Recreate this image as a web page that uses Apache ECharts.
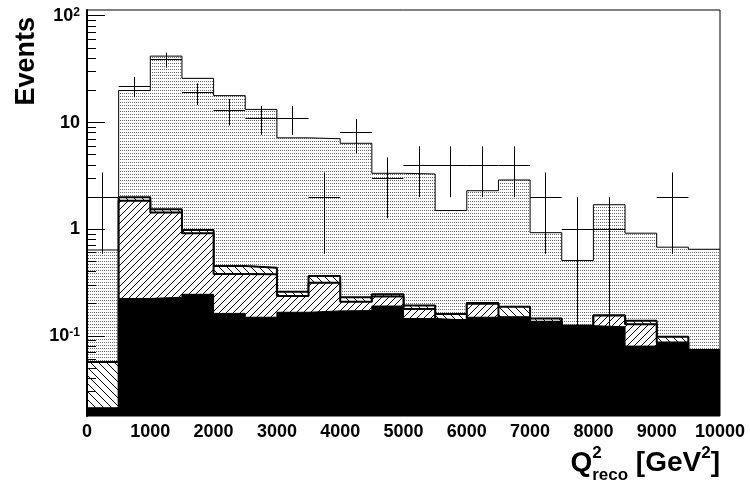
<!DOCTYPE html>
<html>
<head>
<meta charset="utf-8">
<script src="https://cdn.jsdelivr.net/npm/echarts@6/dist/echarts.min.js"></script>
<style>
  html, body { margin: 0; padding: 0; background: #fff; }
  #chart { width: 750px; height: 488px; }
</style>
</head>
<body>
<div id="chart"></div>
<script>
// Q2 bins: 20 bins of 500 GeV^2, given by their left edges
const binEdges = [0, 500, 1000, 1500, 2000, 2500, 3000, 3500, 4000, 4500,
                  5000, 5500, 6000, 6500, 7000, 7500, 8000, 8500, 9000, 9500];
const binWidth = 500;

// observed events and their statistical errors
const dataCounts = [2, 22, 39, 19, 13, 11, 11, 2, 8, 3, 4, 4, 4, 4, 2, 1, 1, 0, 2, 0];
const dataErrors = [1.41, 4.69, 6.24, 4.36, 3.61, 3.32, 3.32, 1.41, 2.83, 1.73,
                    2, 2, 2, 2, 1.41, 1, 1, 0, 1.41, 0];

// stacked expectation, cumulative heights of each layer (top to bottom)
const stackTotal     = [0.64, 20, 42, 26, 17.9, 13.3, 7.2, 7.06, 6.4, 3.35,
                        3.3, 1.5, 2.3, 2.9, 0.93, 0.51, 1.7, 0.92, 0.68, 0.65];
const stackBackslash = [0.057, 2.0, 1.54, 0.985, 0.453, 0.436, 0.26, 0.365, 0.231, 0.246,
                        0.193, 0.161, 0.204, 0.188, 0.146, 0.125, 0.156, 0.139, 0.0986, 0.074];
const stackSlash     = [0.021, 1.85, 1.44, 0.92, 0.381, 0.379, 0.237, 0.316, 0.21, 0.234,
                        0.179, 0.141, 0.201, 0.15, 0.136, 0.125, 0.156, 0.129, 0.087, 0.074];
const stackBlack     = [0.021, 0.225, 0.231, 0.246, 0.163, 0.15, 0.167, 0.172, 0.173, 0.191,
                        0.146, 0.141, 0.15, 0.15, 0.136, 0.125, 0.122, 0.0805, 0.087, 0.074];

// log-axis tick marks
const yMajorTicks = [0.1, 1, 10, 100];
const yMinorTicks = [0.02, 0.03, 0.04, 0.05, 0.06, 0.07, 0.08, 0.09,
                     0.2, 0.3, 0.4, 0.5, 0.6, 0.7, 0.8, 0.9,
                     2, 3, 4, 5, 6, 7, 8, 9,
                     20, 30, 40, 50, 60, 70, 80, 90];

const Y_MIN = 0.0178, Y_MAX = 113.6;
const X_MIN = 0, X_MAX = 10000;
const FONT = '"Liberation Sans", Arial, Helvetica, sans-serif';

// ---- fill patterns ----
function dotPattern() {
  const c = document.createElement('canvas');
  c.width = 4; c.height = 3;
  const g = c.getContext('2d');
  g.fillStyle = '#6a6a6a';
  g.fillRect(0, 0, 1, 1);
  g.fillRect(2, 0, 1, 1);
  return c;
}
function hatchPattern(size, forward) {
  const c = document.createElement('canvas');
  c.width = size; c.height = size;
  const g = c.getContext('2d');
  g.fillStyle = '#fff';
  g.fillRect(0, 0, size, size);
  g.strokeStyle = '#000';
  g.lineWidth = 1;
  g.beginPath();
  for (let k = -1; k <= 1; k++) {
    if (forward) { g.moveTo(k * size, size); g.lineTo(k * size + size, 0); }
    else { g.moveTo(k * size, 0); g.lineTo(k * size + size, size); }
  }
  g.stroke();
  return c;
}

function stepPoints(tops) {
  const pts = binEdges.map((x, i) => [x, tops[i]]);
  pts.push([binEdges[binEdges.length - 1] + binWidth, tops[tops.length - 1]]);
  return pts;
}

function histSeries(name, tops, fill, lineWidth, z) {
  return {
    name, type: 'line', step: 'end', data: stepPoints(tops),
    symbol: 'none', silent: true, clip: true, z,
    lineStyle: { color: '#000', width: lineWidth },
    areaStyle: { color: fill, opacity: 1, origin: 'start' },
    animation: false
  };
}

const crossData = binEdges
  .map((x, i) => [x + binWidth / 2, dataCounts[i], dataErrors[i]])
  .filter(d => d[1] > 0);

const tickData = yMajorTicks.map(v => [X_MIN, v, 1])
  .concat(yMinorTicks.map(v => [X_MIN, v, 0]));

function snap(v) { return Math.round(v - 0.5) + 0.5; }

function yLabel(value) {
  const e = Math.round(Math.log10(value));
  if (Math.abs(Math.log10(value) - e) > 1e-6) return '';
  if (e === 0) return '1';
  if (e === 1) return '10';
  return '10{sup|' + e + '}';
}

// ---- axis title pieces (Q^2_reco [GeV^2]) ----
const measureCtx = document.createElement('canvas').getContext('2d');
function textWidth(t, size) {
  measureCtx.font = 'bold ' + size + 'px ' + FONT;
  return measureCtx.measureText(t).width;
}
const titleSize = 28, smallSize = 17;
const titleRight = 720, titleBase = 473;
const wClose = textWidth(']', titleSize);
const wSup2 = textWidth('2', smallSize);
const wGeV = textWidth(' [GeV', titleSize);
const wReco = textWidth('reco', smallSize);
const wQ = textWidth('Q', titleSize);
const xClose = titleRight - wClose;
const xSup2 = xClose - wSup2;
const xGeV = xSup2 - wGeV;
const xReco = xGeV - wReco;
const xQ = xReco - wQ;

// place a text piece by its baseline
function titleText(text, x, baseline, size) {
  return {
    type: 'text', x, y: baseline - 0.35 * size, z: 20, silent: true,
    style: { text, font: 'bold ' + size + 'px ' + FONT, fill: '#000',
             align: 'left', verticalAlign: 'middle' }
  };
}

const chart = echarts.init(document.getElementById('chart'), null, { renderer: 'canvas' });

chart.setOption({
  animation: false,
  backgroundColor: '#fff',
  grid: { left: 87, right: 30, top: 10, bottom: 72, show: true,
          borderColor: '#000', borderWidth: 1, z: 10, backgroundColor: 'transparent' },
  xAxis: {
    type: 'value', min: X_MIN, max: X_MAX, interval: 1000,
    axisLine: { show: false },
    axisTick: { show: false },
    splitLine: { show: false },
    axisLabel: { color: '#000', fontSize: 18, fontWeight: 'bold', fontFamily: FONT, margin: 7,
                 formatter: v => String(v) }
  },
  yAxis: {
    type: 'log', logBase: 10, min: Y_MIN, max: Y_MAX, z: 10,
    axisLine: { show: true, lineStyle: { color: '#000', width: 2 } },
    axisTick: { show: false },
    splitLine: { show: false },
    minorTick: { show: false },
    axisLabel: {
      showMinLabel: false, showMaxLabel: false,
      color: '#000', fontSize: 18, fontWeight: 'bold', fontFamily: FONT, margin: 7,
      formatter: yLabel,
      rich: {
        sup: { fontSize: 12, fontWeight: 'bold', fontFamily: FONT, color: '#000',
               verticalAlign: 'top', padding: [0, 0, 6, 0] }
      }
    }
  },
  graphic: [
    {
      type: 'text', x: 27, y: 17, rotation: Math.PI / 2, z: 20, silent: true,
      style: { text: 'Events', font: 'bold 27px ' + FONT, fill: '#000',
               align: 'right', verticalAlign: 'middle' }
    },
    titleText('Q', xQ, titleBase, titleSize),
    titleText('2', xReco, titleBase - 14, smallSize),
    titleText('reco', xReco, titleBase + 8, smallSize),
    titleText(' [GeV', xGeV, titleBase, titleSize),
    titleText('2', xSup2, titleBase - 14, smallSize),
    titleText(']', xClose, titleBase, titleSize)
  ],
  series: [
    histSeries('total', stackTotal, { image: dotPattern(), repeat: 'repeat' }, 1, 1),
    histSeries('backslash', stackBackslash, { image: hatchPattern(8, false), repeat: 'repeat' }, 2, 2),
    histSeries('slash', stackSlash, { image: hatchPattern(7, true), repeat: 'repeat' }, 2, 3),
    histSeries('black', stackBlack, '#000', 1, 4),
    {
      name: 'data', type: 'custom', data: crossData, clip: true, z: 5, silent: true,
      renderItem(params, api) {
        const xc = api.value(0), n = api.value(1), e = api.value(2);
        const a = api.coord([xc - binWidth / 2, n]);
        const b = api.coord([xc + binWidth / 2, n]);
        const t = api.coord([xc, n + e]);
        const u = api.coord([xc, Math.max(n - e, Y_MIN)]);
        const st = { stroke: '#000', lineWidth: 1 };
        return {
          type: 'group', children: [
            { type: 'line', shape: { x1: a[0], y1: snap(a[1]), x2: b[0], y2: snap(b[1]) }, style: st },
            { type: 'line', shape: { x1: snap(t[0]), y1: t[1], x2: snap(u[0]), y2: u[1] }, style: st }
          ]
        };
      }
    },
    {
      name: 'yticks', type: 'custom', data: tickData, clip: true, z: 6, silent: true,
      renderItem(params, api) {
        const p = api.coord([api.value(0), api.value(1)]);
        const len = api.value(2) ? 18 : 9;
        return {
          type: 'line',
          shape: { x1: p[0], y1: snap(p[1]), x2: p[0] + len, y2: snap(p[1]) },
          style: { stroke: '#000', lineWidth: 1 }
        };
      }
    }
  ]
});
</script>
</body>
</html>
